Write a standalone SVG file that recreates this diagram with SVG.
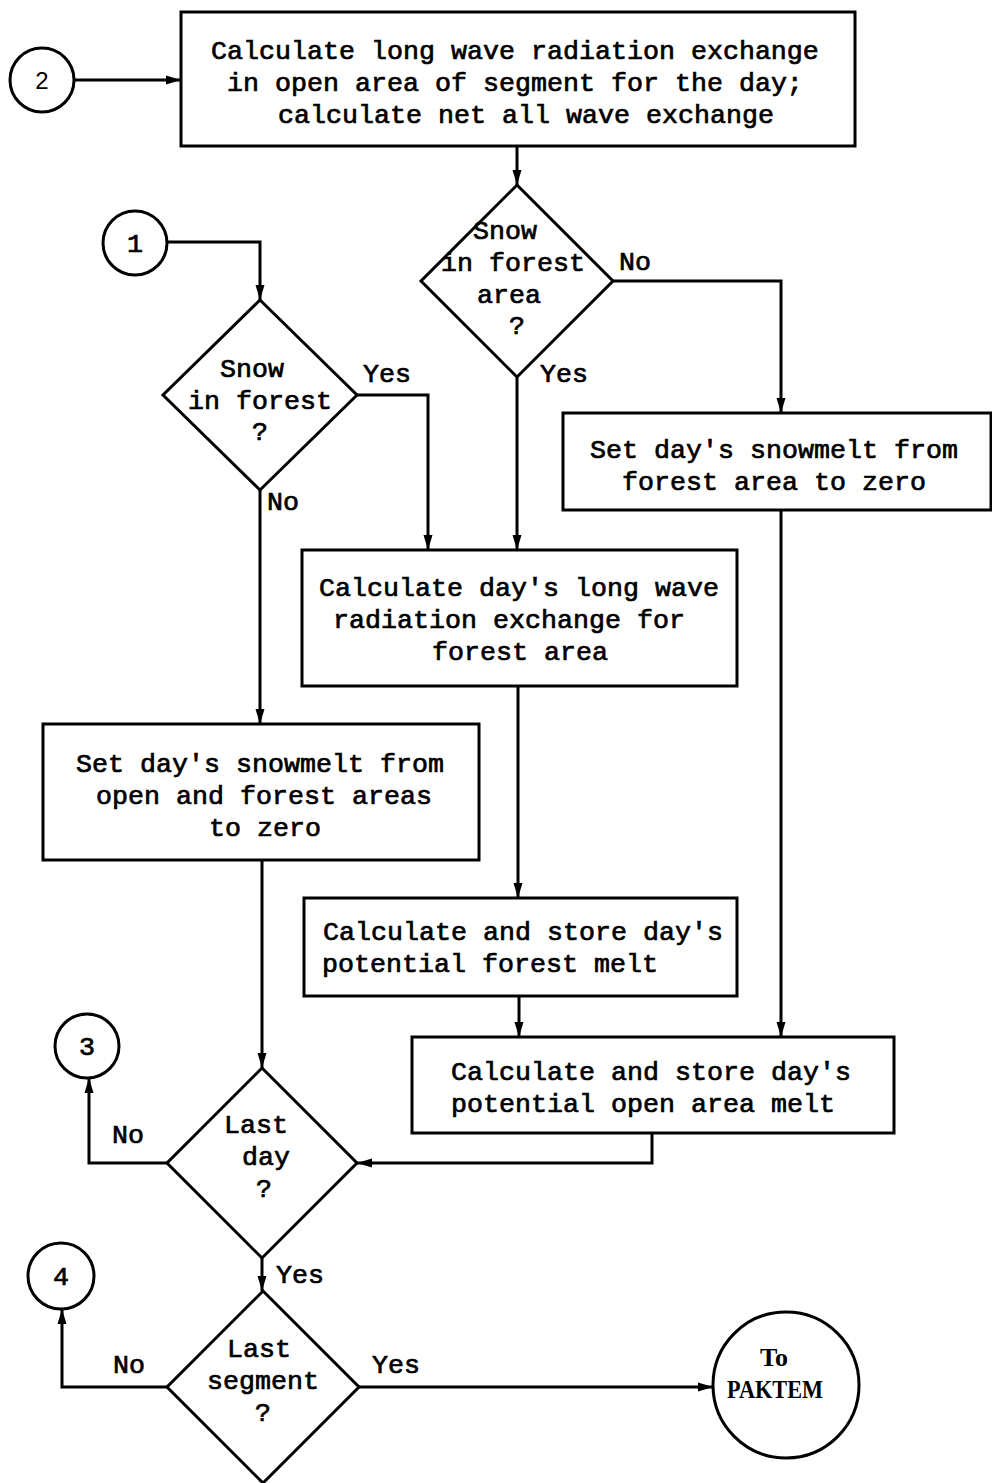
<svg xmlns="http://www.w3.org/2000/svg" width="992" height="1483" viewBox="0 0 992 1483">
<style>
  .shape { fill: #ffffff; stroke: #000000; stroke-width: 3; }
  .conn { fill: none; stroke: #000000; stroke-width: 3; }
  .t { font-family: "Liberation Mono", "Courier New", monospace; font-size: 26.67px; font-weight: normal; fill: #000000; stroke: #000000; stroke-width: 0.7; }
  .num { font-family: "Liberation Sans", Arial, sans-serif; font-size: 24px; fill: #000000; text-anchor: middle; }
  .serif { font-family: "Liberation Serif", "Times New Roman", serif; font-size: 26px; font-weight: bold; fill: #000000; text-anchor: middle; }
</style>
<defs>
  <marker id="arrow" markerUnits="userSpaceOnUse" markerWidth="16" markerHeight="10" refX="15" refY="5" orient="auto">
    <path d="M0,0.5 L15,5 L0,9.5 Z" fill="#000000"/>
  </marker>
</defs>
<rect width="992" height="1483" fill="#ffffff"/>

<g id="connectors">
  <path class="conn" d="M74,80 L181,80" marker-end="url(#arrow)"/>
  <path class="conn" d="M517,146 L517,185" marker-end="url(#arrow)"/>
  <path class="conn" d="M167,242 L260,242 L260,300" marker-end="url(#arrow)"/>
  <path class="conn" d="M613,281 L781,281 L781,413" marker-end="url(#arrow)"/>
  <path class="conn" d="M517,377 L517,550" marker-end="url(#arrow)"/>
  <path class="conn" d="M357,395 L428,395 L428,550" marker-end="url(#arrow)"/>
  <path class="conn" d="M260,490 L260,724" marker-end="url(#arrow)"/>
  <path class="conn" d="M518,686 L518,898" marker-end="url(#arrow)"/>
  <path class="conn" d="M519,996 L519,1037" marker-end="url(#arrow)"/>
  <path class="conn" d="M781,510 L781,1037" marker-end="url(#arrow)"/>
  <path class="conn" d="M262,860 L262,1068" marker-end="url(#arrow)"/>
  <path class="conn" d="M652,1133 L652,1163 L357,1163" marker-end="url(#arrow)"/>
  <path class="conn" d="M167,1163 L89,1163 L89,1078" marker-end="url(#arrow)"/>
  <path class="conn" d="M262,1258 L262,1291" marker-end="url(#arrow)"/>
  <path class="conn" d="M167,1387 L62,1387 L62,1309" marker-end="url(#arrow)"/>
  <path class="conn" d="M359,1387 L713,1387" marker-end="url(#arrow)"/>
</g>

<g id="c2">
  <circle class="shape" cx="42" cy="80" r="32"/>
  <text class="num" x="42" y="89">2</text>
</g>

<g id="box-open-longwave">
  <rect class="shape" x="181" y="12" width="674" height="134"/>
  <text class="t" x="211" y="59">Calculate long wave radiation exchange</text>
  <text class="t" x="227" y="91">in open area of segment for the day;</text>
  <text class="t" x="278" y="123">calculate net all wave exchange</text>
</g>

<g id="c1">
  <circle class="shape" cx="135" cy="243" r="32"/>
  <text class="t" x="135" y="252" text-anchor="middle">1</text>
</g>

<g id="d-snow-forest-area">
  <polygon class="shape" points="517,185 613,281 517,377 421,281"/>
  <text class="t" x="473" y="239">Snow</text>
  <text class="t" x="441" y="271">in forest</text>
  <text class="t" x="477" y="303">area</text>
  <text class="t" x="509" y="334">?</text>
  <text class="t" x="619" y="270">No</text>
  <text class="t" x="540" y="382">Yes</text>
</g>

<g id="d-snow-forest">
  <polygon class="shape" points="260,300 357,395 260,490 163,395"/>
  <text class="t" x="220" y="377">Snow</text>
  <text class="t" x="188" y="409">in forest</text>
  <text class="t" x="252" y="440">?</text>
  <text class="t" x="363" y="382">Yes</text>
  <text class="t" x="267" y="510">No</text>
</g>

<g id="box-forest-zero">
  <rect class="shape" x="563" y="413" width="428" height="97"/>
  <text class="t" x="590" y="458">Set day's snowmelt from</text>
  <text class="t" x="622" y="490">forest area to zero</text>
</g>

<g id="box-forest-longwave">
  <rect class="shape" x="302" y="550" width="435" height="136"/>
  <text class="t" x="319" y="596">Calculate day's long wave</text>
  <text class="t" x="333" y="628">radiation exchange for</text>
  <text class="t" x="432" y="660">forest area</text>
</g>

<g id="box-open-forest-zero">
  <rect class="shape" x="43" y="724" width="436" height="136"/>
  <text class="t" x="76" y="772">Set day's snowmelt from</text>
  <text class="t" x="96" y="804">open and forest areas</text>
  <text class="t" x="209" y="836">to zero</text>
</g>

<g id="box-forest-melt">
  <rect class="shape" x="304" y="898" width="433" height="98"/>
  <text class="t" x="323" y="940">Calculate and store day's</text>
  <text class="t" x="322" y="972">potential forest melt</text>
</g>

<g id="box-open-melt">
  <rect class="shape" x="412" y="1037" width="482" height="96"/>
  <text class="t" x="451" y="1080">Calculate and store day's</text>
  <text class="t" x="451" y="1112">potential open area melt</text>
</g>

<g id="c3">
  <circle class="shape" cx="87" cy="1046" r="32"/>
  <text class="t" x="87" y="1055" text-anchor="middle">3</text>
</g>

<g id="d-last-day">
  <polygon class="shape" points="262,1068 357,1163 262,1258 167,1163"/>
  <text class="t" x="224" y="1133">Last</text>
  <text class="t" x="242" y="1165">day</text>
  <text class="t" x="256" y="1197">?</text>
  <text class="t" x="112" y="1143">No</text>
  <text class="t" x="276" y="1283">Yes</text>
</g>

<g id="c4">
  <circle class="shape" cx="61" cy="1276" r="33"/>
  <text class="t" x="61" y="1285" text-anchor="middle">4</text>
</g>

<g id="d-last-segment">
  <polygon class="shape" points="263,1291 359,1387 263,1483 167,1387"/>
  <text class="t" x="227" y="1357">Last</text>
  <text class="t" x="207" y="1389">segment</text>
  <text class="t" x="255" y="1421">?</text>
  <text class="t" x="113" y="1373">No</text>
  <text class="t" x="372" y="1373">Yes</text>
</g>

<g id="c-paktem">
  <circle class="shape" cx="786" cy="1385" r="73"/>
  <text class="serif" x="774" y="1366">To</text>
  <text class="serif" x="775" y="1398" textLength="96" lengthAdjust="spacingAndGlyphs">PAKTEM</text>
</g>
</svg>
